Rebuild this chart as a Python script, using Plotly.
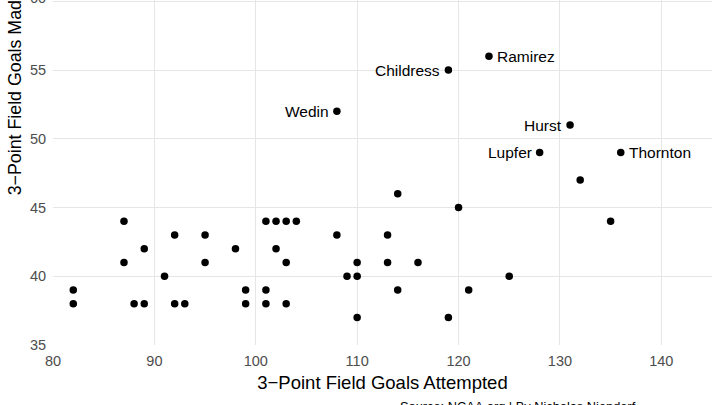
import plotly.graph_objects as go

# Data: 3-point attempts (x) vs makes (y)
attempted = [82, 82, 87, 87, 88, 89, 89, 91, 92, 92, 93, 95, 95, 98, 99, 99,
             101, 101, 101, 102, 102, 103, 103, 103, 104, 108, 109, 110, 110, 110,
             113, 113, 114, 116, 120, 121, 119, 125, 135, 114, 132,
             108, 119, 123, 131, 128, 136]
made = [39, 38, 44, 41, 38, 38, 42, 40, 43, 38, 38, 43, 41, 42, 39, 38,
        44, 39, 38, 44, 42, 44, 41, 38, 44, 43, 40, 41, 40, 37,
        43, 41, 39, 41, 45, 39, 37, 40, 44, 46, 47,
        52, 55, 56, 51, 49, 49]
names = [""] * 41 + ["Wedin", "Childress", "Ramirez", "Hurst", "Lupfer", "Thornton"]
label_side = {"Wedin": "left", "Childress": "left", "Ramirez": "right",
              "Hurst": "left", "Lupfer": "left", "Thornton": "right"}

x_ticks = [80, 90, 100, 110, 120, 130, 140]
y_ticks = [35, 40, 45, 50, 55, 60]

FONT = "Liberation Sans, Arial, sans-serif"
TICK_FONT = dict(family=FONT, size=14.5, color="#4d4d4d")

fig = go.Figure()
fig.add_trace(go.Scatter(
    x=attempted, y=made, mode="markers",
    marker=dict(color="black", size=7.5),
    hoverinfo="skip", showlegend=False,
))

annotations = []
for xv, yv, nm in zip(attempted, made, names):
    if not nm:
        continue
    side = label_side[nm]
    annotations.append(dict(
        x=xv, y=yv, xref="x", yref="y", text=nm, showarrow=False,
        xanchor="right" if side == "left" else "left",
        xshift=-6 if side == "left" else 6,
        yanchor="middle",
        font=dict(family=FONT, size=15.5, color="black"),
    ))

# top tick label (partly off-page as in the reference)
annotations.append(dict(
    x=0, y=y_ticks[-1], xref="paper", yref="y", text=str(y_ticks[-1]),
    showarrow=False, xanchor="right", yanchor="middle", xshift=-5, yshift=3,
    font=TICK_FONT,
))
# y-axis title (partially off-page as in the reference)
annotations.append(dict(
    x=-0.058, y=(345 - 197) / 345, xref="paper", yref="paper",
    text="3\u2212Point Field Goals Made", showarrow=False, textangle=-90,
    xanchor="center", yanchor="bottom",
    font=dict(family=FONT, size=17.8, color="black"),
))
# caption
annotations.append(dict(
    x=(638 - 53) / 659, y=(345 - 406) / 345, xref="paper", yref="paper",
    text="Source: NCAA.org | By Nicholas Nienderf", showarrow=False,
    xanchor="right", yanchor="middle",
    font=dict(family=FONT, size=12.8, color="black"),
))

fig.update_layout(
    width=720, height=405,
    margin=dict(l=53, r=8, t=0, b=60, autoexpand=False),
    paper_bgcolor="white", plot_bgcolor="white",
    font=dict(family=FONT),
    annotations=annotations,
    xaxis=dict(
        range=[80, 145], tickvals=x_ticks, showgrid=True, gridcolor="#e6e6e6",
        gridwidth=1.2, zeroline=False, showline=False, automargin=False,
        tickfont=TICK_FONT,
        ticks="outside", ticklen=3, tickcolor="rgba(0,0,0,0)",
        title=dict(text="3\u2212Point Field Goals Attempted",
                   font=dict(family=FONT, size=18.5, color="black"), standoff=7),
    ),
    yaxis=dict(
        range=[35, 60.1], tickvals=y_ticks, showgrid=True, gridcolor="#e6e6e6",
        gridwidth=1.2, zeroline=False, showline=False, automargin=False,
        tickfont=TICK_FONT,
        ticks="outside", ticklen=3, tickcolor="rgba(0,0,0,0)",
    ),
)

fig.write_html(
    "out.html",
    config={"displayModeBar": False},
    post_script="document.body.style.margin='0';document.body.style.overflow='hidden';",
)
